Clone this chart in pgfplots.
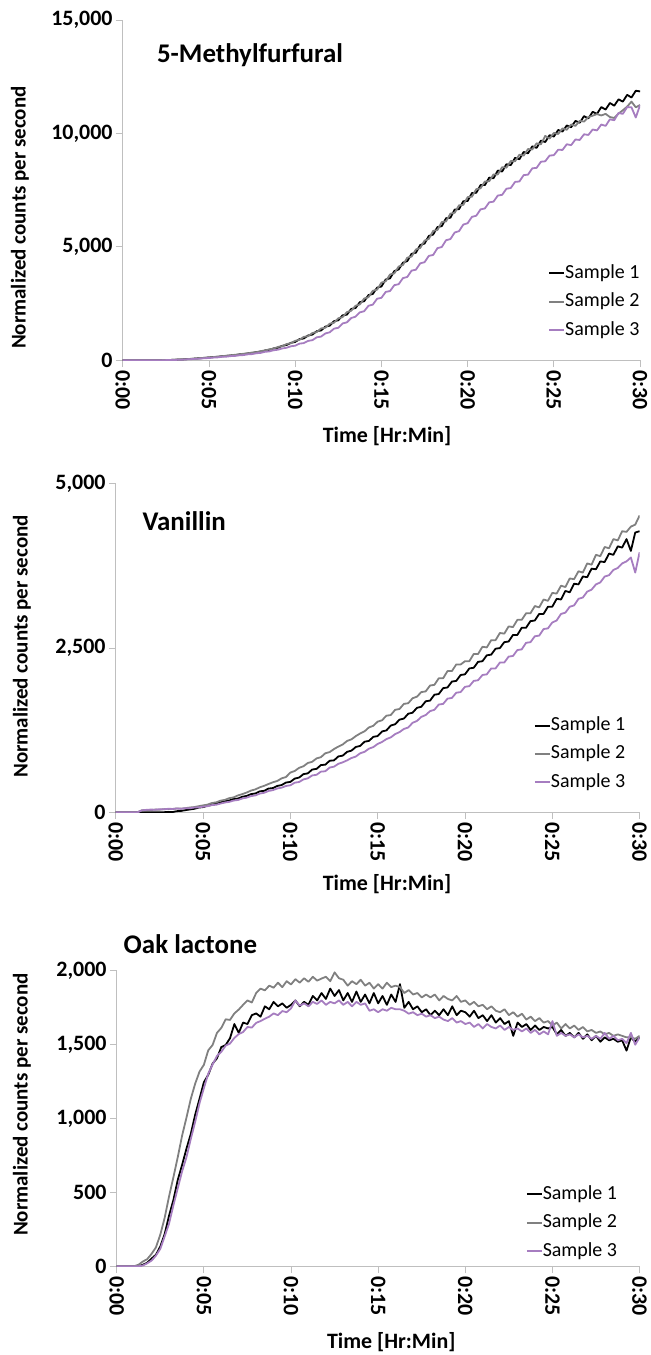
\documentclass[border=0pt]{standalone}
\usepackage{fontspec}
\setmainfont{Carlito}
\usepackage{pgfplots}
\usepackage{pgfplotstable}
\pgfplotsset{compat=1.18}
\definecolor{sgray}{HTML}{808080}
\definecolor{spurple}{HTML}{A67DC0}
\definecolor{axgray}{HTML}{BFBFBF}

\pgfplotstableread{
x a b c
0 0 0 0
1 0 0 0
2 0 0 0
2.25 0 2 0
2.5 5 8 3
2.75 12 10 8
3 18 24 10
3.25 30 30 20
3.5 36 44 26
3.75 52 46 40
4 58 65 48
4.25 78 74 62
4.5 85 96 70
4.75 108 98 88
5 118 130 96
5.25 140 136 115
5.5 146 165 125
5.75 176 170 150
6 186 200 156
6.25 210 212 180
6.5 224 240 188
6.75 256 248 215
7 265 286 226
7.25 300 300 258
7.5 315 338 270
7.75 358 355 306
8 372 402 324
8.25 430 425 370
8.5 458 480 388
8.75 520 512 440
9 550 585 462
9.25 635 622 520
9.5 670 712 548
9.75 765 750 615
10 805 855 640
10.25 930 900 730
10.5 960 1030 755
10.75 1090 1060 850
11 1130 1200 885
11.25 1280 1240 1010
11.5 1310 1400 1040
11.75 1480 1430 1180
12 1520 1610 1230
12.25 1720 1650 1390
12.5 1760 1850 1430
12.75 1980 1900 1620
13 2010 2120 1670
13.25 2260 2180 1860
13.5 2300 2400 1920
13.75 2560 2460 2110
14 2600 2720 2160
14.25 2870 2780 2400
14.5 2920 3060 2450
14.75 3200 3110 2710
15 3250 3420 2750
15.25 3560 3480 3010
15.5 3610 3780 3050
15.75 3930 3830 3310
16 4000 4130 3350
16.25 4300 4200 3620
16.5 4370 4520 3670
16.75 4690 4570 3950
17 4740 4880 3990
17.25 5080 4950 4270
17.5 5140 5270 4320
17.75 5480 5350 4600
18 5540 5700 4640
18.25 5870 5740 4940
18.5 5910 6090 4990
18.75 6260 6120 5290
19 6280 6460 5340
19.25 6640 6500 5630
19.5 6660 6830 5690
19.75 7010 6850 5980
20 7020 7190 6040
20.25 7370 7210 6320
20.5 7380 7540 6370
20.75 7720 7580 6650
21 7720 7880 6690
21.25 8050 7890 6960
21.5 8020 8190 6990
21.75 8360 8190 7260
22 8320 8510 7290
22.25 8640 8490 7560
22.5 8600 8780 7590
22.75 8920 8770 7860
23 8860 9060 7880
23.25 9180 9020 8160
23.5 9120 9310 8180
23.75 9430 9290 8460
24 9360 9560 8480
24.25 9680 9520 8750
24.5 9620 9890 8770
24.75 9920 9770 9020
25 9860 10020 9040
25.25 10150 9970 9280
25.5 10080 10220 9270
25.75 10350 10160 9520
26 10270 10390 9480
26.25 10550 10330 9730
26.5 10470 10550 9710
26.75 10760 10520 9960
27 10660 10720 9930
27.25 10950 10780 10170
27.5 10860 10850 10130
27.75 11160 10790 10390
28 11050 10860 10330
28.25 11340 10720 10620
28.5 11220 10680 10580
28.75 11500 10870 10900
29 11400 11020 10860
29.25 11700 11180 11160
29.5 11580 11400 11150
29.75 11880 11150 10700
30 11850 11250 11250
}\tabMF

\pgfplotstableread{
x a b c
0 0 0 0
1.25 0 0 0
1.5 0 30 28
1.75 0 34 36
2 0 32 40
2.25 0 40 38
2.5 0 38 46
2.75 0 46 44
3 5 50 52
3.25 2 48 50
3.5 16 58 56
3.75 20 54 52
4 32 62 62
4.25 42 72 60
4.5 52 78 72
4.75 70 92 74
5 78 104 84
5.25 98 115 92
5.5 112 140 108
5.75 136 150 114
6 148 176 132
6.25 170 188 148
6.5 178 214 158
6.75 202 226 178
7 208 256 186
7.25 236 276 210
7.5 248 300 222
7.75 276 330 246
8 286 348 256
8.25 318 380 284
8.5 326 402 296
8.75 360 430 324
9 368 456 336
9.25 400 476 362
9.5 414 516 374
9.75 452 536 400
10 462 604 410
10.25 512 628 450
10.5 528 676 460
10.75 580 700 500
11 592 750 516
11.25 650 768 560
11.5 660 820 570
11.75 718 838 618
12 724 898 624
12.25 784 916 680
12.5 790 962 694
12.75 850 1000 738
13 862 1032 760
13.25 920 1086 790
13.5 938 1110 826
13.75 994 1160 848
14 1010 1200 898
14.25 1074 1232 920
14.5 1086 1292 968
14.75 1148 1316 992
15 1160 1380 1040
15.25 1230 1400 1070
15.5 1246 1470 1114
15.75 1320 1480 1140
16 1340 1560 1190
16.25 1410 1572 1220
16.5 1426 1650 1268
16.75 1500 1660 1290
17 1516 1736 1362
17.25 1590 1760 1390
17.5 1606 1830 1452
17.75 1690 1840 1480
18 1700 1930 1540
18.25 1790 1940 1560
18.5 1800 2040 1640
18.75 1890 2040 1650
19 1900 2150 1730
19.25 1990 2150 1740
19.5 2000 2250 1820
19.75 2090 2250 1830
20 2100 2300 1910
20.25 2190 2300 1920
20.5 2200 2410 2000
20.75 2290 2410 2010
21 2300 2520 2090
21.25 2390 2510 2100
21.5 2400 2620 2190
21.75 2490 2620 2190
22 2500 2730 2280
22.25 2590 2720 2280
22.5 2600 2830 2370
22.75 2700 2820 2380
23 2700 2930 2470
23.25 2810 2930 2480
23.5 2810 3030 2580
23.75 2910 3030 2590
24 2920 3140 2680
24.25 3020 3120 2690
24.5 3020 3240 2790
24.75 3130 3220 2800
25 3130 3340 2890
25.25 3250 3330 2920
25.5 3240 3450 3020
25.75 3370 3430 3040
26 3350 3560 3130
26.25 3480 3550 3150
26.5 3470 3670 3250
26.75 3590 3650 3270
27 3580 3790 3360
27.25 3710 3770 3390
27.5 3700 3920 3470
27.75 3820 3900 3500
28 3810 4040 3590
28.25 3940 4020 3610
28.5 3920 4160 3690
28.75 4050 4140 3720
29 4030 4280 3790
29.25 4160 4270 3820
29.5 3980 4350 3880
29.75 4260 4380 3650
30 4280 4520 3960
}\tabVA

\pgfplotstableread{
x a b c
0 0 0 0
1 0 0 0
1.25 0 10 0
1.5 10 32 5
1.75 24 48 20
2 52 84 38
2.25 78 128 72
2.5 134 214 118
2.75 218 328 202
3 342 472 288
3.25 448 602 412
3.5 584 738 528
3.75 686 884 642
4 796 1006 738
4.25 896 1134 862
4.5 1026 1236 978
4.75 1134 1318 1104
5 1246 1364 1206
5.25 1296 1462 1304
5.5 1372 1498 1366
5.75 1408 1580 1424
6 1484 1614 1452
6.25 1498 1672 1494
6.5 1544 1668 1508
6.75 1640 1712 1546
7 1580 1738 1572
7.25 1650 1770 1586
7.5 1640 1800 1620
7.75 1700 1786 1616
8 1712 1850 1648
8.25 1690 1880 1660
8.5 1760 1868 1676
8.75 1740 1900 1690
9 1790 1886 1712
9.25 1760 1920 1700
9.5 1780 1890 1728
9.75 1750 1930 1720
10 1770 1908 1746
10.25 1800 1944 1800
10.5 1760 1920 1764
10.75 1790 1950 1780
11 1770 1926 1760
11.25 1830 1960 1790
11.5 1800 1934 1776
11.75 1850 1948 1800
12 1810 1960 1770
12.25 1880 1930 1790
12.5 1830 1990 1780
12.75 1870 1950 1800
13 1800 1940 1770
13.25 1850 1900 1790
13.5 1790 1930 1760
13.75 1860 1910 1790
14 1790 1940 1770
14.25 1840 1900 1780
14.5 1780 1920 1730
14.75 1850 1880 1740
15 1780 1910 1720
15.25 1830 1880 1740
15.5 1770 1920 1730
15.75 1840 1890 1750
16 1790 1900 1740
16.25 1910 1890 1740
16.5 1750 1850 1730
16.75 1790 1870 1710
17 1740 1840 1720
17.25 1760 1850 1700
17.5 1720 1820 1710
17.75 1740 1840 1690
18 1700 1820 1700
18.25 1730 1840 1680
18.5 1700 1800 1690
18.75 1740 1830 1670
19 1700 1810 1660
19.25 1760 1800 1680
19.5 1700 1830 1650
19.75 1730 1790 1660
20 1720 1800 1640
20.25 1690 1770 1650
20.5 1730 1790 1620
20.75 1680 1760 1640
21 1700 1770 1610
21.25 1660 1740 1640
21.5 1700 1760 1620
21.75 1650 1730 1610
22 1680 1720 1630
22.25 1640 1740 1600
22.5 1660 1700 1620
22.75 1560 1720 1600
23 1650 1690 1610
23.25 1620 1710 1590
23.5 1640 1670 1610
23.75 1600 1690 1580
24 1630 1660 1600
24.25 1600 1680 1570
24.5 1620 1650 1590
24.75 1610 1660 1570
25 1620 1630 1660
25.25 1570 1650 1560
25.5 1600 1610 1580
25.75 1560 1640 1560
26 1580 1610 1570
26.25 1550 1630 1550
26.5 1580 1600 1570
26.75 1540 1620 1550
27 1570 1590 1560
27.25 1530 1600 1540
27.5 1560 1580 1560
27.75 1520 1590 1540
28 1550 1570 1580
28.25 1530 1580 1540
28.5 1540 1560 1560
28.75 1520 1570 1530
29 1530 1560 1540
29.25 1460 1550 1510
29.5 1550 1550 1580
29.75 1520 1540 1500
30 1550 1560 1550
}\tabOL

\pgfplotsset{
  panel/.style={
    scale only axis,
    clip mode=individual,
    axis lines*=left,
    axis line style={axgray, line width=0.9pt},
    xmin=0, xmax=30, ymin=0,
    xtick={0,5,...,30},
    xticklabels={0:00,0:05,0:10,0:15,0:20,0:25,0:30},
    tick align=outside,
    major tick length=7pt,
    tick style={axgray, line width=0.9pt},
    scaled y ticks=false,
    /pgf/number format/1000 sep={,},
    /pgf/number format/assume math mode=true,
    xticklabel style={rotate=-90, anchor=west, font=\bfseries\fontsize{22}{22}\selectfont, inner sep=3pt},
    yticklabel style={font=\bfseries\fontsize{22}{22}\selectfont, inner sep=3pt},
    xlabel style={font=\bfseries\fontsize{22}{22}\selectfont},
    ylabel style={font=\bfseries\fontsize{21}{21}\selectfont},
    every axis plot/.append style={line width=1.8pt, line join=round, no marks},
    legend cell align=left,
    legend image code/.code={\draw[##1, line width=2pt] (0pt,0pt) -- (15pt,0pt);},
    legend style={draw=none, fill=none, inner sep=0pt, row sep=10.5pt,
      font=\fontsize{20}{20}\selectfont,
      nodes={inner sep=0pt, text height=14pt, text depth=4pt},
      /tikz/every odd column/.style={column sep=0pt}},
  },
}

\begin{document}
\begin{tikzpicture}
\path (0pt,0pt) rectangle (649pt,-1355pt);

% Panel 1
\begin{axis}[panel,
  at={(123pt,-20pt)}, anchor=north west,
  width=518.5pt, height=341pt,
  ymax=15000, ytick={0,5000,10000,15000},
  xlabel={Time [Hr:Min]},
  xlabel style={at={([yshift=-76pt]axis description cs:0.511,0)}, anchor=center},
  ylabel={Normalized counts per second},
  ylabel style={at={([xshift=-103pt]axis description cs:0,0.419)}, anchor=center},
  legend style={at={(axis description cs:0.822,0.282)}, anchor=north west},
]
\addplot[black] table[x=x, y=a] {\tabMF};
\addplot[sgray] table[x=x, y=b] {\tabMF};
\addplot[spurple] table[x=x, y=c] {\tabMF};
\legend{Sample 1, Sample 2, Sample 3}
\node[anchor=west, inner sep=0pt, font=\bfseries\fontsize{27}{27}\selectfont] at (axis description cs:0.066,0.897) {5-Methylfurfural};
\end{axis}

% Panel 2
\begin{axis}[panel,
  at={(116pt,-485pt)}, anchor=north west,
  width=525pt, height=329pt,
  ymax=5000, ytick={0,2500,5000},
  xlabel={Time [Hr:Min]},
  xlabel style={at={([yshift=-72pt]axis description cs:0.518,0)}, anchor=center},
  ylabel={Normalized counts per second},
  ylabel style={at={([xshift=-94pt]axis description cs:0,0.505)}, anchor=center},
  legend style={at={(axis description cs:0.798,0.292)}, anchor=north west},
]
\addplot[black] table[x=x, y=a] {\tabVA};
\addplot[sgray] table[x=x, y=b] {\tabVA};
\addplot[spurple] table[x=x, y=c] {\tabVA};
\legend{Sample 1, Sample 2, Sample 3}
\node[anchor=west, inner sep=0pt, font=\bfseries\fontsize{27}{27}\selectfont] at (axis description cs:0.051,0.888) {Vanillin};
\end{axis}

% Panel 3
\begin{axis}[panel,
  at={(117pt,-973pt)}, anchor=north west,
  width=524pt, height=296pt,
  ymax=2000, ytick={0,500,1000,1500,2000},
  xlabel={Time [Hr:Min]},
  xlabel style={at={([yshift=-76pt]axis description cs:0.525,0)}, anchor=center},
  ylabel={Normalized counts per second},
  ylabel style={at={([xshift=-95pt]axis description cs:0,0.547)}, anchor=center},
  legend style={at={(axis description cs:0.782,0.275)}, anchor=north west},
]
\addplot[black] table[x=x, y=a] {\tabOL};
\addplot[sgray] table[x=x, y=b] {\tabOL};
\addplot[spurple] table[x=x, y=c] {\tabOL};
\legend{Sample 1, Sample 2, Sample 3}
\node[anchor=west, inner sep=0pt, font=\bfseries\fontsize{27}{27}\selectfont] at (axis description cs:0.013,1.092) {Oak lactone};
\end{axis}
\end{tikzpicture}
\end{document}
